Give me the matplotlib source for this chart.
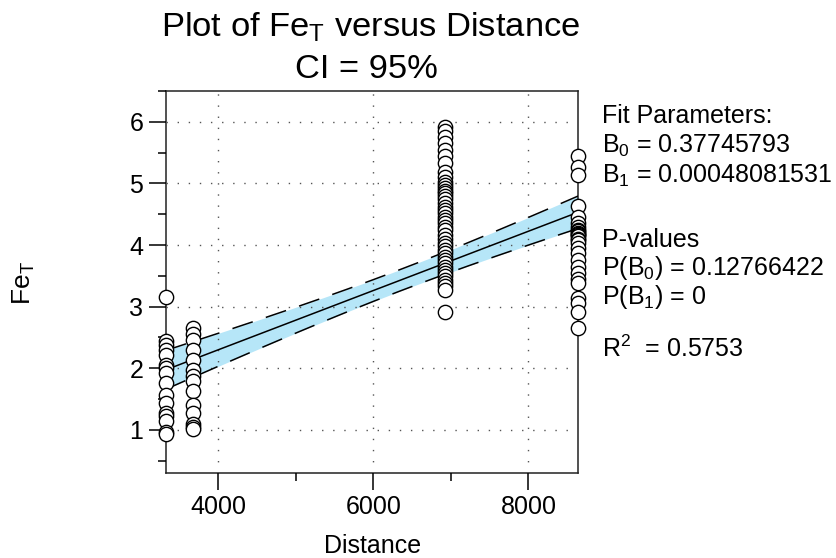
import numpy as np
import matplotlib
matplotlib.use("Agg")
import matplotlib.pyplot as plt
from matplotlib.ticker import MultipleLocator

plt.rcParams['font.family'] = ['Liberation Sans', 'DejaVu Sans']
plt.rcParams['mathtext.fontset'] = 'custom'
plt.rcParams['mathtext.rm'] = 'Liberation Sans'
plt.rcParams['mathtext.it'] = 'Liberation Sans:italic'
plt.rcParams['mathtext.bf'] = 'Liberation Sans:bold'

# ---- data ----
dist_groups = [3320, 3670, 6925, 8640]
fe_3320 = [3.15, 2.45, 2.38, 2.30, 2.22, 2.05, 2.00, 1.92, 1.76, 1.57, 1.44,
           1.28, 1.22, 1.14, 0.97, 0.93]
fe_3670 = [2.65, 2.55, 2.46, 2.30, 2.14, 1.97, 1.88, 1.79, 1.63, 1.41, 1.28,
           1.10, 1.05, 1.02]
fe_6925 = [5.92, 5.85, 5.76, 5.66, 5.55, 5.45, 5.33, 5.19, 5.10, 5.03, 4.97,
           4.92, 4.88, 4.84, 4.79, 4.74, 4.68, 4.62, 4.57, 4.52, 4.46, 4.41,
           4.35, 4.30, 4.24, 4.17, 4.10, 4.03, 3.98, 3.92, 3.87, 3.80, 3.75,
           3.71, 3.65, 3.60, 3.54, 3.49, 3.44, 3.38, 3.33, 3.27, 2.92]
fe_8640 = [5.44, 5.27, 5.14, 4.63, 4.45, 4.36, 4.30, 4.25, 4.22, 4.20, 4.18,
           4.16, 4.14, 4.10, 4.08, 4.03, 3.95, 3.87, 3.75, 3.65, 3.54, 3.45,
           3.38, 3.14, 3.06, 2.92, 2.65]

B0 = 0.37745793
B1 = 0.00048081531
P_B0 = 0.12766422
P_B1 = 0
R2 = 0.5753
t_crit = 1.98  # 95% two-sided t value

groups = [fe_3320, fe_3670, fe_6925, fe_8640]
x = np.concatenate([[d] * len(g) for d, g in zip(dist_groups, groups)]).astype(float)
y = np.concatenate(groups)

# ---- fit and confidence band (residual variance from the reported R^2) ----
n = len(x)
xs = np.linspace(x.min(), x.max(), 200)
yfit = B0 + B1 * xs
sst = np.sum((y - y.mean()) ** 2)
s = np.sqrt((1 - R2) * sst / (n - 2))
xbar = x.mean()
sxx = np.sum((x - xbar) ** 2)
hw = t_crit * s * np.sqrt(1.0 / n + (xs - xbar) ** 2 / sxx)

fig = plt.figure(figsize=(8.36, 5.58), dpi=100)
ax = fig.add_axes([0.1982, 0.1523, 0.4932, 0.6846])

ax.fill_between(xs, yfit - hw, yfit + hw, color='#b6e6f8', lw=0, zorder=1)
ax.plot(xs, yfit, color='black', lw=1.1, zorder=3)
ax.plot(xs, yfit + hw, color='black', lw=1.1, dashes=(14, 9), zorder=3)
ax.plot(xs, yfit - hw, color='black', lw=1.1, dashes=(14, 9), zorder=3)

ax.plot(x, y, 'o', ms=10.3, mfc='white', mec='black', mew=1.0,
        clip_on=False, zorder=5)

ax.set_xlim(x.min(), x.max())
ax.set_ylim(0.3, 6.5)
ax.xaxis.set_major_locator(MultipleLocator(2000))
ax.xaxis.set_minor_locator(MultipleLocator(1000))
ax.yaxis.set_major_locator(MultipleLocator(1))
ax.yaxis.set_minor_locator(MultipleLocator(0.5))

ax.grid(True, which='major', color='#555555', lw=1.0,
        linestyle=(0, (1, 7)), zorder=2)
ax.set_axisbelow(False)
for gl in ax.get_xgridlines() + ax.get_ygridlines():
    gl.set_zorder(2)

ax.tick_params(which='major', direction='out', length=12.5, width=1.1,
               labelsize=18, pad=3.6, colors='black')
ax.tick_params(which='minor', direction='out', length=6, width=1.1)
ax.tick_params(top=False, right=False, which='both')
for sp in ax.spines.values():
    sp.set_linewidth(1.1)
    sp.set_color('#222222')

# titles and labels
fig.text(371 / 836, 1 - 37 / 558, r'Plot of Fe$_\mathrm{T}$ versus Distance',
         ha='center', va='baseline', fontsize=24.8)
fig.text(366 / 836, 1 - 78 / 558, 'CI = 95%', ha='center', va='baseline',
         fontsize=24.8)
fig.text(373 / 836, 1 - 553 / 558, 'Distance', ha='center', va='baseline',
         fontsize=18)
fig.text(24 / 836, 1 - 283 / 558, r'Fe$_\mathrm{T}$', ha='center', va='center',
         rotation=90, fontsize=19)

# right-hand annotation
xt = 602 / 836
lines = [
    (123.3, 'Fit Parameters:'),
    (152.7, r'B$_0$ = %.8f' % B0),
    (182.7, r'B$_1$ = %.11f' % B1),
    (246.7, 'P-values'),
    (275.0, r'P(B$_0$) = %.8f' % P_B0),
    (304.0, r'P(B$_1$) = %d' % P_B1),
    (356.7, r'R$^2$  = %.4f' % R2),
]
for ypix, txt in lines:
    fig.text(xt, 1 - ypix / 558, txt, ha='left', va='baseline', fontsize=18)

fig.savefig('out.png', dpi=100)
